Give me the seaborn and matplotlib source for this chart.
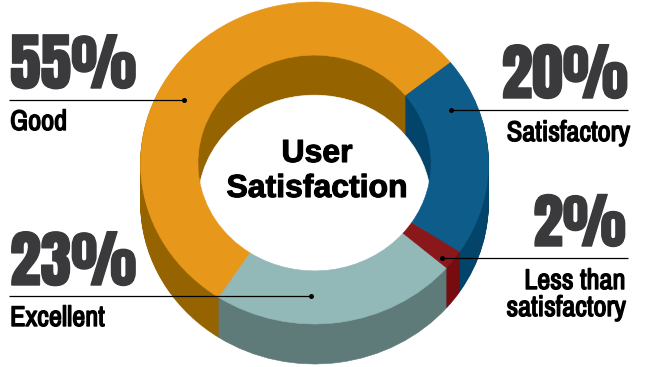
import matplotlib
matplotlib.use("Agg")
import matplotlib.pyplot as plt
import matplotlib.patheffects as pe
from matplotlib.patches import Circle
import seaborn as sns

# ---- data ----
categories = ["Good", "Excellent", "Less than\nsatisfactory", "Satisfactory"]
values = [55, 23, 2, 20]
percent_labels = ["55%", "23%", "2%", "20%"]
title_lines = ["User", "Satisfaction"]

top_colors = ["#E7981B", "#92B8B7", "#8A181B", "#0E5C8A"]
side_colors = ["#956300", "#5E7B7A", "#760C0F", "#03446A"]

# ---- geometry in pixels ----
W, H = 650, 367
CX, CY, RX, RY = 314.5, 163.0, 174.0, 161.0
DEPTH_PX = 40
INNER = 0.67
START = 38.6

sns.set_theme(style="white")
fig = plt.figure(figsize=(W / 100, H / 100), dpi=100, facecolor="white")
ax = fig.add_axes([0, 0, 1, 1])

xlim = (-CX / RX, (W - CX) / RX)
ylim = ((CY - H) / RY, CY / RY)
step = 1 / RY


def pie(center_y, radius, colors, width=None):
    wp = {"linewidth": 0.4}
    if width is not None:
        wp["width"] = width
    wedges, _ = ax.pie(values, colors=sns.color_palette(colors), startangle=START,
                       counterclock=True, radius=radius, center=(0, center_y),
                       wedgeprops=wp, frame=False)
    for w, c in zip(wedges, colors):
        w.set_edgecolor(c)
    return wedges


# outer extrusion, painted from the bottom up
for d in range(DEPTH_PX, 0, -1):
    pie(-d * step, 1.0, side_colors)

# inner wall: painted downward, then the white opening at full depth
for d in range(0, DEPTH_PX + 1):
    pie(-d * step, INNER, side_colors)
ax.add_patch(Circle((0, -DEPTH_PX * step), INNER, facecolor="white", edgecolor="white", lw=0.4))

# the top ring's face covers everything that overflows the opening
pie(0, 1.0, top_colors, width=1 - INNER)

ax.set_aspect("auto")
ax.set_xlim(*xlim)
ax.set_ylim(*ylim)
ax.axis("off")

# ---- annotation overlay in pixel coordinates ----
ov = fig.add_axes([0, 0, 1, 1], facecolor="none")
ov.set_xlim(0, W)
ov.set_ylim(H, 0)
ov.axis("off")

NUM_FONT = ["Anton", "Liberation Sans"]
LAB_FONT = ["Archivo Narrow", "Liberation Sans"]
TITLE_FONT = ["Liberation Sans"]
NUM = "#3A3A3C"


def big(x, y, s, ha, size=44.5):
    ov.text(x, y, s, ha=ha, va="baseline", family=NUM_FONT, fontsize=size, color=NUM,
            path_effects=[pe.withStroke(linewidth=1.0, foreground=NUM)])


def lab(x, y, s, ha):
    ov.text(x, y, s, ha=ha, va="baseline", family=LAB_FONT, weight="bold", fontsize=20.5, color="black",
            path_effects=[pe.withStroke(linewidth=1.0, foreground="black")])


def leader(x0, x1, y):
    ov.plot([x0, x1], [y, y], color="black", lw=0.9, solid_capstyle="butt")
    ov.plot([x1], [y], "o", color="black", ms=3.6, mew=0)


big(10, 88, percent_labels[0], "left")
big(10, 285, percent_labels[1], "left")
big(628, 98, percent_labels[3], "right")
big(626, 246, percent_labels[2], "right", size=43)

leader(9, 184, 99.5)
leader(9, 311, 295.5)
leader(628, 451, 109.5)
leader(628, 442, 257.5)

lab(10, 130, categories[0], "left")
lab(10, 326, categories[1], "left")
lab(630, 141, categories[3], "right")
lines = categories[2].split("\n")
lab(626, 289, lines[0], "right")
lab(626, 316, lines[1], "right")

for y, s in zip([162, 197], title_lines):
    ov.text(317, y, s, ha="center", va="baseline", family=TITLE_FONT, weight="bold", fontsize=23,
            color="black", path_effects=[pe.withStroke(linewidth=0.8, foreground="black")])

fig.savefig("out.png", dpi=100, facecolor="white")
